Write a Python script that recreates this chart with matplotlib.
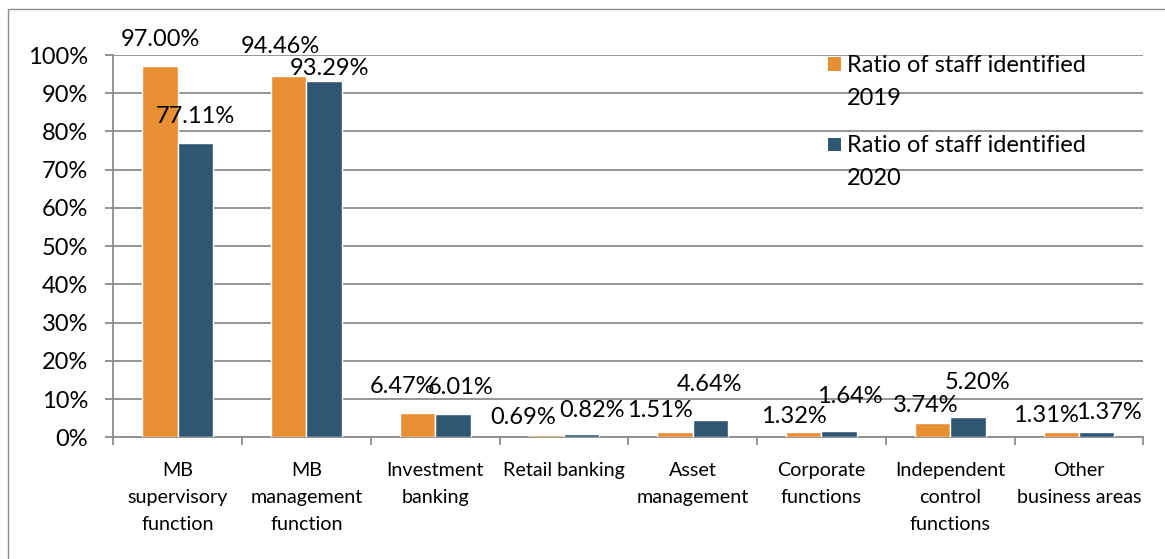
import numpy as np
import matplotlib.pyplot as plt
from matplotlib.patches import Rectangle

plt.rcParams['font.family'] = ['Lato', 'DejaVu Sans']

# Data
categories = ["MB\nsupervisory\nfunction", "MB\nmanagement\nfunction",
              "Investment\nbanking", "Retail banking", "Asset\nmanagement",
              "Corporate\nfunctions", "Independent\ncontrol\nfunctions",
              "Other\nbusiness areas"]
ratio_2019 = [97.00, 94.46, 6.47, 0.69, 1.51, 1.32, 3.74, 1.31]
ratio_2020 = [77.11, 93.29, 6.01, 0.82, 4.64, 1.64, 5.20, 1.37]
series_names = ["Ratio of staff identified\n2019", "Ratio of staff identified\n2020"]

# label offsets (pixels, from top centre of each bar)
off_2019 = [(0, 26.5), (-8.5, 29.5), (-15, 25.6), (-23, 16.7), (-15, 21), (-10, 15.6), (-7, 18), (-15, 17)]
off_2020 = [(0, 26), (5.5, 12.3), (8, 27), (10, 24), (-1, 34.6), (10.5, 35), (9.5, 35), (12.5, 19.5)]

orange = "#E98F33"
blue = "#2F5672"
grey = "#8C8C8C"

W, H = 1165, 559
fig = plt.figure(figsize=(W / 100, H / 100), dpi=100)
ax = fig.add_axes([0.0973, 0.2177, 0.8841, 0.6839])

x = np.arange(len(categories))
w = 0.275
b1 = ax.bar(x - w / 2, ratio_2019, w, color=orange, edgecolor="white", linewidth=1, zorder=3)
b2 = ax.bar(x + w / 2, ratio_2020, w, color=blue, edgecolor="white", linewidth=1, zorder=3)

px = 0.72  # points per pixel at dpi 100
for bars, vals, offs in [(b1, ratio_2019, off_2019), (b2, ratio_2020, off_2020)]:
    for rect, v, (dx, dy) in zip(bars, vals, offs):
        ax.annotate(f"{v:.2f}%", (rect.get_x() + rect.get_width() / 2, v),
                    xytext=(dx * px, dy * px), textcoords="offset points",
                    ha="center", va="center", fontsize=17, color="black",
                    annotation_clip=False, zorder=5)

ax.set_xlim(-0.5, len(categories) - 0.5)
ax.set_ylim(0, 100)
ax.set_yticks(np.arange(0, 101, 10))
ax.set_yticklabels([f"{t}%" for t in range(0, 101, 10)], fontsize=17)
ax.yaxis.grid(True, color=grey, linewidth=1.3, zorder=0)
ax.set_axisbelow(True)

# category labels between boundary ticks
ax.set_xticks(np.arange(-0.5, len(categories), 1))
ax.set_xticklabels([])
ax.set_xticks(x, minor=True)
ax.set_xticklabels(categories, minor=True, fontsize=14.2, linespacing=1.72, va="top")
ax.tick_params(axis="x", which="minor", length=0, pad=18)
ax.tick_params(axis="x", which="major", length=6, width=1.3, color=grey, direction="out")
ax.tick_params(axis="y", length=6, width=1.3, color=grey, pad=12)

for s in ["top", "right"]:
    ax.spines[s].set_visible(False)
for s in ["left", "bottom"]:
    ax.spines[s].set_color(grey)
    ax.spines[s].set_linewidth(1.3)

# legend: square beside the first line of each two-line label
for i, (name, col) in enumerate(zip(series_names, [orange, blue])):
    yc = 64 + i * 80.5
    fig.add_artist(Rectangle((828 / W, 1 - (yc + 6.5) / H), 13 / W, 13 / H,
                             transform=fig.transFigure, facecolor=col, edgecolor="none"))
    fig.text(847 / W, 1 - (yc - 9) / H, name, fontsize=17, va="top", ha="left",
             linespacing=1.7)

# outer frame
fig.add_artist(Rectangle((7.5 / W, -0.1), 1.2, (H - 9) / H + 0.1,
                         transform=fig.transFigure, fill=False, edgecolor=grey, linewidth=1))

fig.savefig("out.png", dpi=100)
